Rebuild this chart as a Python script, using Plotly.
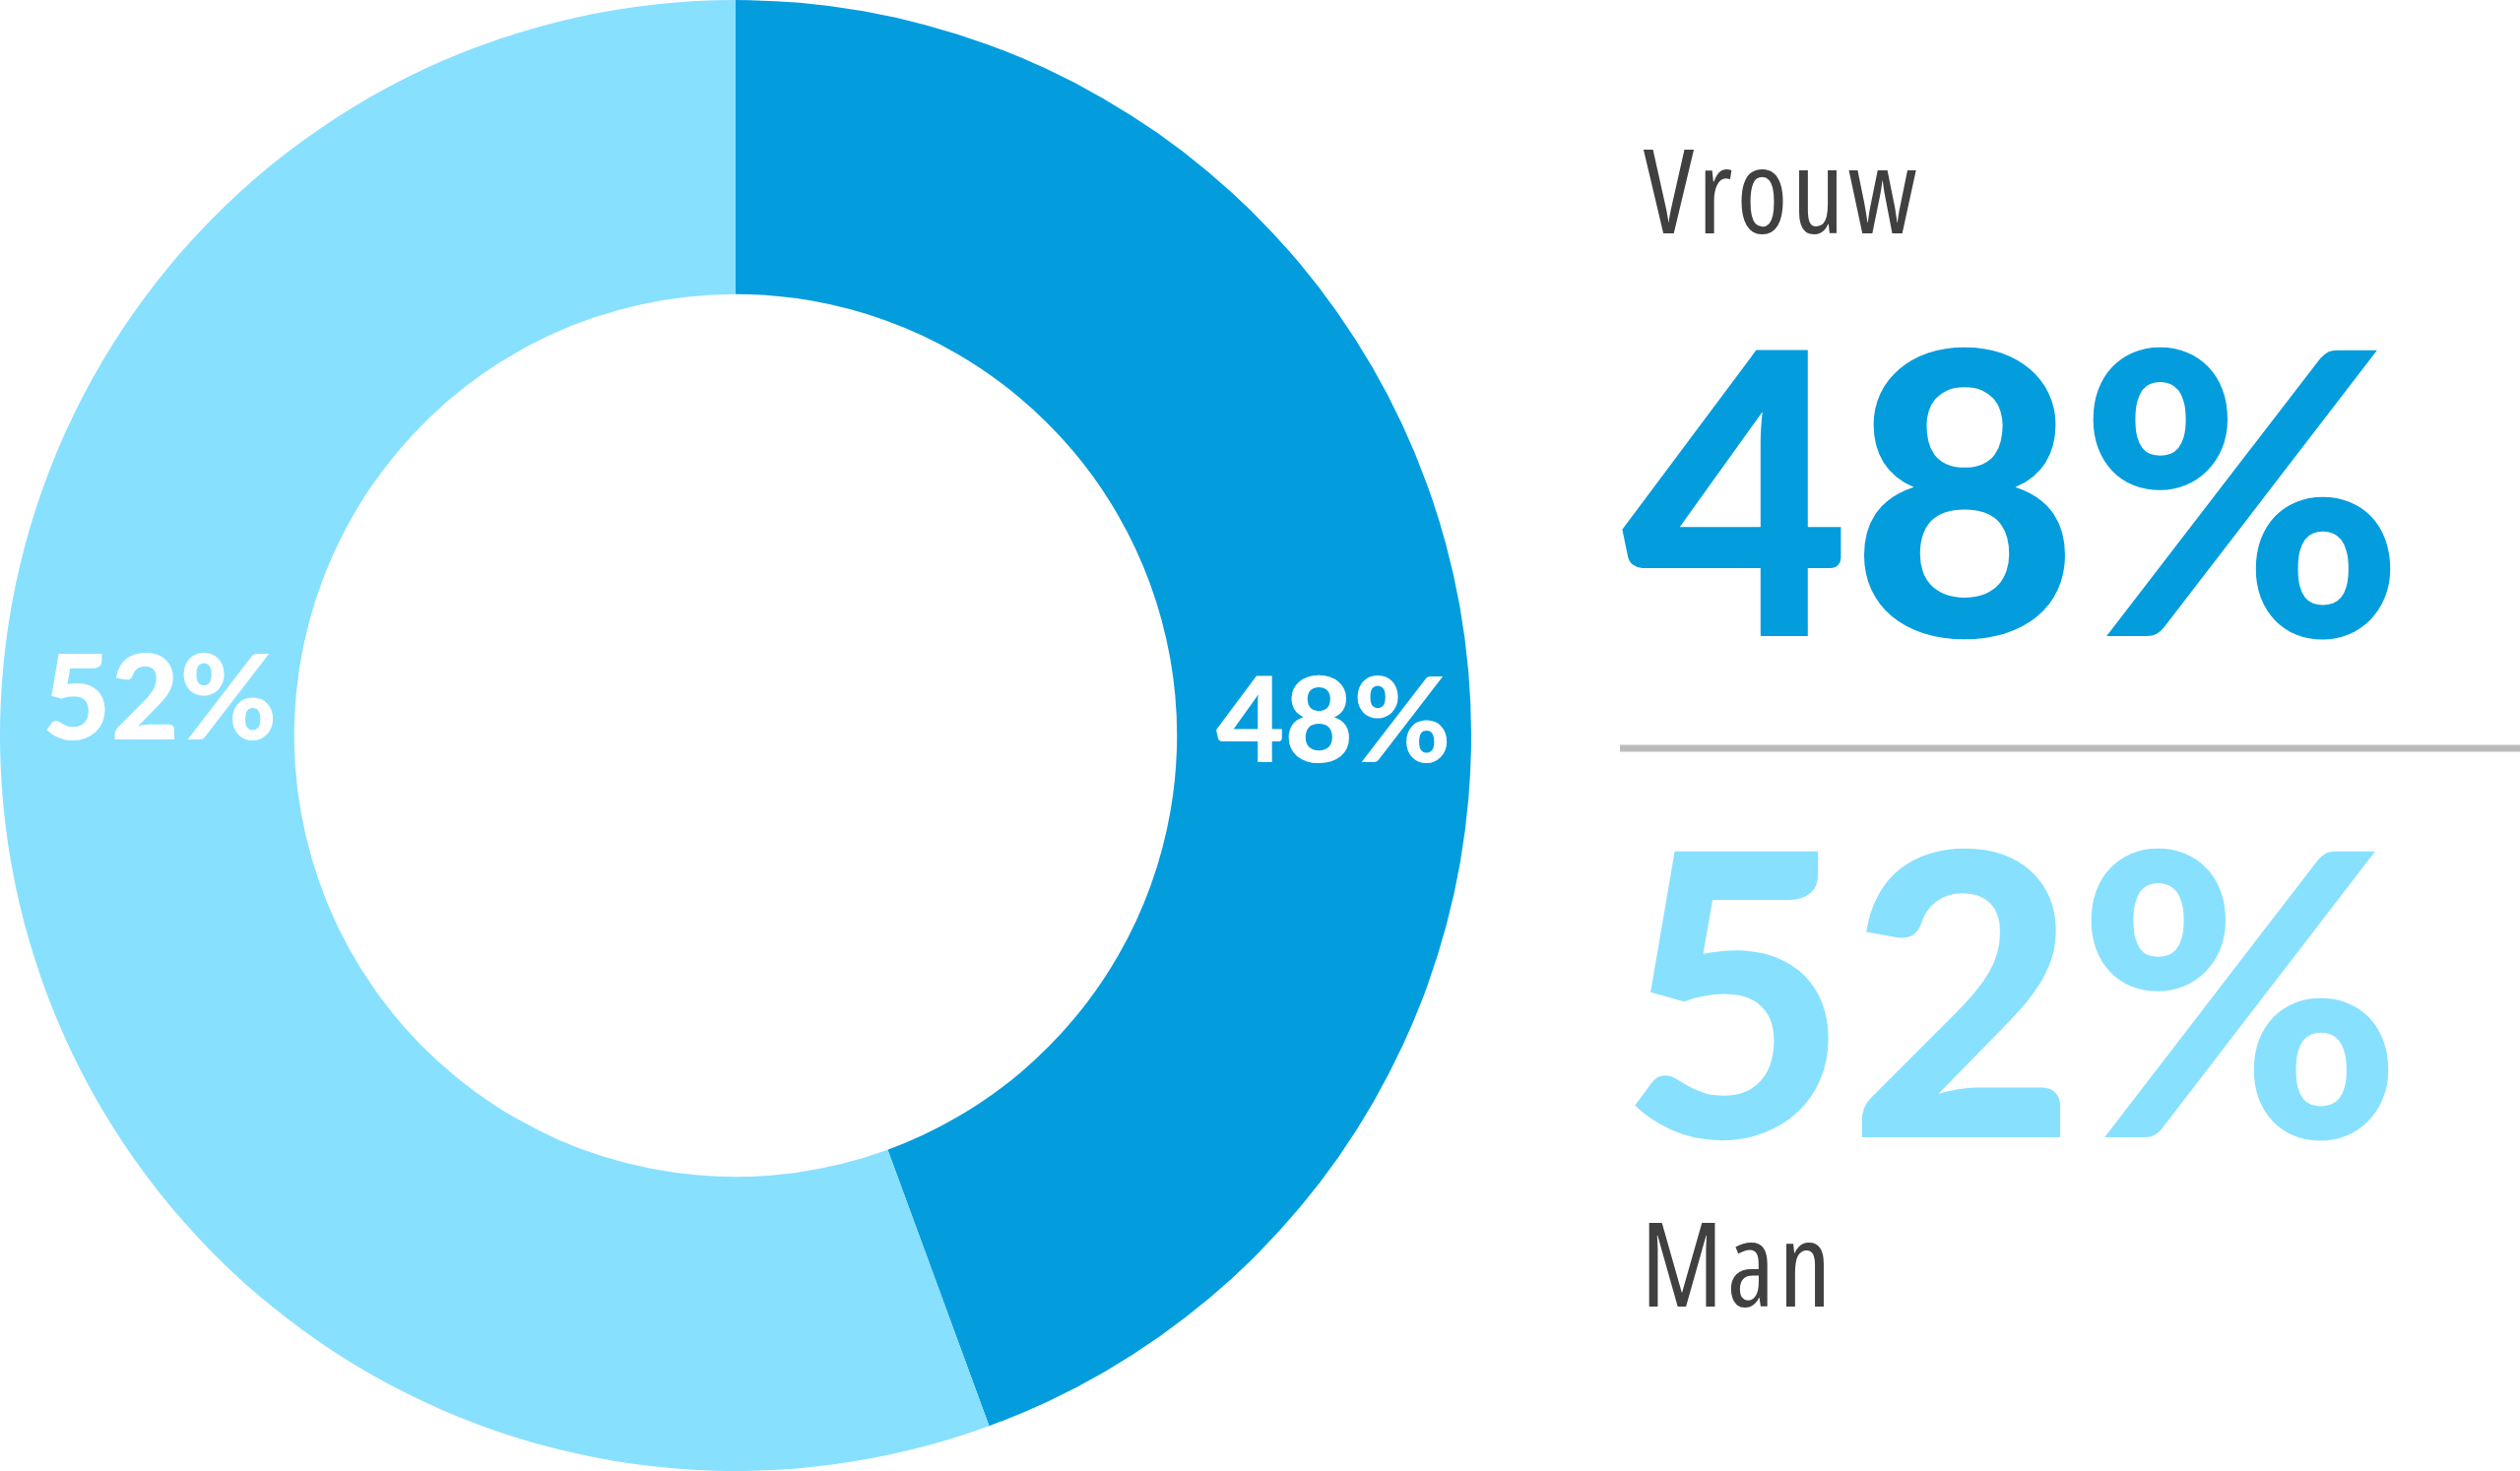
import plotly.graph_objects as go

# Data
categories = ["Vrouw", "Man"]
label_pcts = [48, 52]          # percentages printed on the chart
slice_shares = [44.4, 55.6]    # slice sizes as drawn (dark slice ends at ~160 deg)
colors = ["#039DDE", "#88E0FF"]

W, H = 2559, 1494

fig = go.Figure()
fig.add_trace(go.Pie(
    labels=categories,
    values=slice_shares,
    hole=0.6,
    sort=False,
    direction="clockwise",
    rotation=0,
    marker=dict(colors=colors, line=dict(width=0)),
    textinfo="none",
    showlegend=False,
    hoverinfo="label",
    domain=dict(x=[0, 1494 / W], y=[0, 1]),
))

# Labels inside the donut ring
inner_pos = [(1354, 728), (162, 705)]
for (px, py), pct in zip(inner_pos, label_pcts):
    fig.add_annotation(x=px / W, y=1 - py / H, xref="paper", yref="paper",
                       xanchor="center", yanchor="middle", showarrow=False,
                       text=f"{pct}%",
                       font=dict(family="Lato", size=120, color="white", weight=900))

label_font = dict(family="Open Sans", size=118, color="#404040", weight=400)
def cond(t):
    return f'<span style="font-stretch:semi-condensed;letter-spacing:4px">{t}</span>'

x_left = 1645 / W
# Category labels and big percentages
fig.add_annotation(x=1667 / W, y=1 - 191 / H, xref="paper", yref="paper",
                   xanchor="left", yanchor="middle", showarrow=False,
                   text=cond(categories[0]), font=label_font)
fig.add_annotation(x=x_left, y=1 - 491 / H, xref="paper", yref="paper",
                   xanchor="left", yanchor="middle", showarrow=False,
                   text=f"{label_pcts[0]}%",
                   font=dict(family="Lato", size=400, color=colors[0], weight=900))
fig.add_annotation(x=x_left - 2 / W, y=1 - 1000 / H, xref="paper", yref="paper",
                   xanchor="left", yanchor="middle", showarrow=False,
                   text=f"{label_pcts[1]}%",
                   font=dict(family="Lato", size=400, color=colors[1], weight=900))
fig.add_annotation(x=1664 / W, y=1 - 1281 / H, xref="paper", yref="paper",
                   xanchor="left", yanchor="middle", showarrow=False,
                   text=cond(categories[1]), font=label_font)

# Separator line
fig.add_shape(type="line", xref="paper", yref="paper",
              x0=x_left, x1=1, y0=1 - 760 / H, y1=1 - 760 / H,
              line=dict(color="#BBBBBB", width=7))

fig.update_layout(
    width=W, height=H,
    margin=dict(l=0, r=0, t=0, b=0),
    paper_bgcolor="white",
    plot_bgcolor="white",
)

fig.write_html("out.html", config={"displayModeBar": False},
               post_script="document.body.style.margin='0';")
